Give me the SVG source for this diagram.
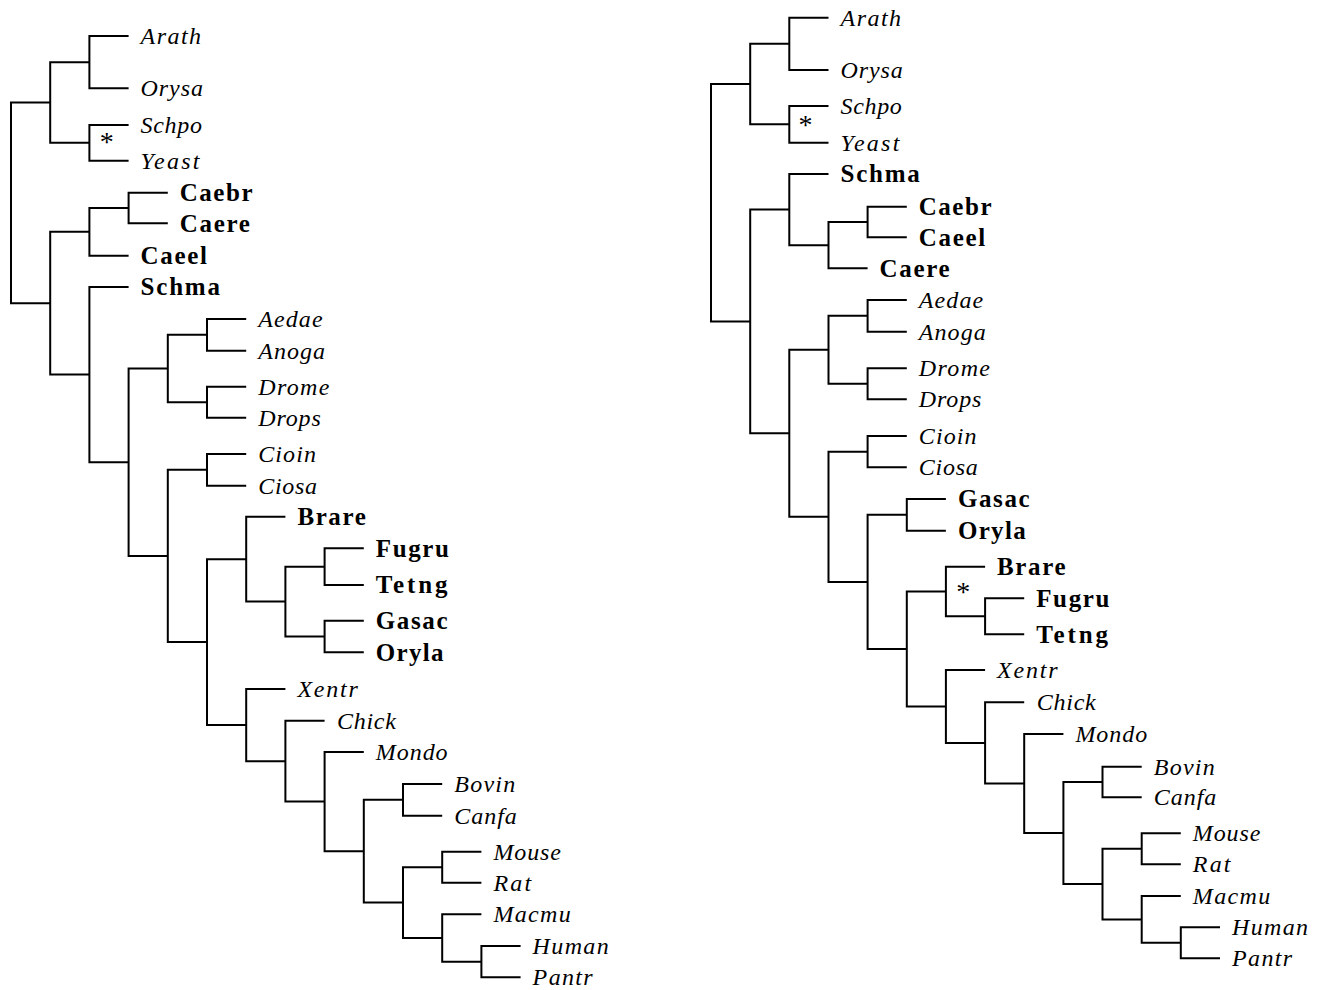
<svg xmlns="http://www.w3.org/2000/svg" width="1327" height="990" viewBox="0 0 1327 990">
<style>
.ln{fill:none;stroke:#000;stroke-width:2;stroke-linejoin:miter;stroke-linecap:butt}
text{font-family:'Liberation Serif','DejaVu Serif',serif;font-size:24px;fill:#000}
.it{font-style:italic}
.bf{font-weight:bold;font-size:25px}
.ast{font-size:28px;text-anchor:middle}
</style>
<rect width="1327" height="990" fill="#fff"/>
<g id="connectors">
<g id="left-tree-lines" class="ln">
<path d="M128.6 36 H89.4 V88.3 H128.6"/>
<path d="M128.6 125 H89.4 V160.7 H128.6"/>
<path d="M89.4 62.15 H50.2 V142.85 H89.4"/>
<path d="M167.8 192.7 H128.6 V223.3 H167.8"/>
<path d="M128.6 208 H89.4 V255.7 H128.6"/>
<path d="M246.2 319 H207 V350.7 H246.2"/>
<path d="M246.2 386.7 H207 V417.7 H246.2"/>
<path d="M207 334.85 H167.8 V402.2 H207"/>
<path d="M246.2 454 H207 V485.7 H246.2"/>
<path d="M363.8 548.3 H324.6 V585 H363.8"/>
<path d="M363.8 620.7 H324.6 V652.3 H363.8"/>
<path d="M324.6 566.65 H285.4 V636.5 H324.6"/>
<path d="M285.4 516.7 H246.2 V601.6 H285.4"/>
<path d="M520.6 946 H481.4 V977.3 H520.6"/>
<path d="M481.4 914.3 H442.2 V961.65 H481.4"/>
<path d="M481.4 851.7 H442.2 V882.7 H481.4"/>
<path d="M442.2 867.2 H403 V938 H442.2"/>
<path d="M442.2 784 H403 V815.7 H442.2"/>
<path d="M403 799.85 H363.8 V902.6 H403"/>
<path d="M363.8 752 H324.6 V851.2 H363.8"/>
<path d="M324.6 720.7 H285.4 V801.6 H324.6"/>
<path d="M285.4 689 H246.2 V761.15 H285.4"/>
<path d="M246.2 559.15 H207 V725.1 H246.2"/>
<path d="M207 469.85 H167.8 V642.1 H207"/>
<path d="M167.8 368.5 H128.6 V556 H167.8"/>
<path d="M128.6 287 H89.4 V462.25 H128.6"/>
<path d="M89.4 231.85 H50.2 V374.6 H89.4"/>
<path d="M50.2 102.5 H11 V303.2 H50.2"/>
</g>
<g id="right-tree-lines" class="ln">
<path d="M828.5 17.7 H789.3 V70 H828.5"/>
<path d="M828.5 106 H789.3 V142.7 H828.5"/>
<path d="M789.3 43.85 H750.2 V124.35 H789.3"/>
<path d="M906.8 206.7 H867.6 V237.3 H906.8"/>
<path d="M867.6 222 H828.5 V268.3 H867.6"/>
<path d="M828.5 174 H789.3 V245.15 H828.5"/>
<path d="M906.8 300 H867.6 V331.7 H906.8"/>
<path d="M906.8 368.3 H867.6 V399.3 H906.8"/>
<path d="M867.6 315.85 H828.5 V383.8 H867.6"/>
<path d="M906.8 436 H867.6 V467.3 H906.8"/>
<path d="M945.9 499 H906.8 V530.7 H945.9"/>
<path d="M1024.2 598.3 H985.1 V634.3 H1024.2"/>
<path d="M985.1 566.7 H945.9 V616.3 H985.1"/>
<path d="M1220 927.3 H1180.8 V958.3 H1220"/>
<path d="M1180.8 896 H1141.7 V942.8 H1180.8"/>
<path d="M1180.8 833.3 H1141.7 V864.3 H1180.8"/>
<path d="M1141.7 848.8 H1102.5 V919.4 H1141.7"/>
<path d="M1141.7 766.7 H1102.5 V797.3 H1141.7"/>
<path d="M1102.5 782 H1063.4 V884.1 H1102.5"/>
<path d="M1063.4 734 H1024.2 V833.05 H1063.4"/>
<path d="M1024.2 702.3 H985.1 V783.5 H1024.2"/>
<path d="M985.1 670 H945.9 V742.9 H985.1"/>
<path d="M945.9 591.5 H906.8 V706.45 H945.9"/>
<path d="M906.8 514.85 H867.6 V649 H906.8"/>
<path d="M867.6 451.65 H828.5 V581.9 H867.6"/>
<path d="M828.5 349.8 H789.3 V516.8 H828.5"/>
<path d="M789.3 209.6 H750.2 V433.3 H789.3"/>
<path d="M750.2 84.1 H711 V321.45 H750.2"/>
</g>
</g>
<g id="left-tree">
<g id="L-Arath"><text class="it" x="140.6" y="44" textLength="60.5" lengthAdjust="spacing">Arath</text></g>
<g id="L-Orysa"><text class="it" x="140.6" y="96.3" textLength="62.3" lengthAdjust="spacing">Orysa</text></g>
<g id="L-Schpo"><text class="it" x="140.6" y="133" textLength="61.3" lengthAdjust="spacing">Schpo</text></g>
<g id="L-Yeast"><text class="it" x="140.6" y="168.7" textLength="58.9" lengthAdjust="spacing">Yeast</text></g>
<g id="L-star"><text class="ast" x="106.7" y="151.2">*</text></g>
<g id="L-Caebr"><text class="bf" x="179.8" y="201" textLength="72.7" lengthAdjust="spacing">Caebr</text></g>
<g id="L-Caere"><text class="bf" x="179.8" y="231.6" textLength="70" lengthAdjust="spacing">Caere</text></g>
<g id="L-Caeel"><text class="bf" x="140.6" y="264" textLength="66.3" lengthAdjust="spacing">Caeel</text></g>
<g id="L-Schma"><text class="bf" x="140.6" y="295.3" textLength="79.3" lengthAdjust="spacing">Schma</text></g>
<g id="L-Aedae"><text class="it" x="258.2" y="327" textLength="64.4" lengthAdjust="spacing">Aedae</text></g>
<g id="L-Anoga"><text class="it" x="258.2" y="358.7" textLength="66.9" lengthAdjust="spacing">Anoga</text></g>
<g id="L-Drome"><text class="it" x="258.2" y="394.7" textLength="71.2" lengthAdjust="spacing">Drome</text></g>
<g id="L-Drops"><text class="it" x="258.2" y="425.7" textLength="62.6" lengthAdjust="spacing">Drops</text></g>
<g id="L-Cioin"><text class="it" x="258.2" y="462" textLength="57.7" lengthAdjust="spacing">Cioin</text></g>
<g id="L-Ciosa"><text class="it" x="258.2" y="493.7" textLength="58.9" lengthAdjust="spacing">Ciosa</text></g>
<g id="L-Brare"><text class="bf" x="297.4" y="525" textLength="68.4" lengthAdjust="spacing">Brare</text></g>
<g id="L-Fugru"><text class="bf" x="375.8" y="556.6" textLength="73.2" lengthAdjust="spacing">Fugru</text></g>
<g id="L-Tetng"><text class="bf" x="375.8" y="593.3" textLength="71.7" lengthAdjust="spacing">Tetng</text></g>
<g id="L-Gasac"><text class="bf" x="375.8" y="629" textLength="71.7" lengthAdjust="spacing">Gasac</text></g>
<g id="L-Oryla"><text class="bf" x="375.8" y="660.6" textLength="67.8" lengthAdjust="spacing">Oryla</text></g>
<g id="L-Xentr"><text class="it" x="297.4" y="697" textLength="60.5" lengthAdjust="spacing">Xentr</text></g>
<g id="L-Chick"><text class="it" x="337" y="728.7" textLength="58.9" lengthAdjust="spacing">Chick</text></g>
<g id="L-Mondo"><text class="it" x="375.8" y="760" textLength="71.8" lengthAdjust="spacing">Mondo</text></g>
<g id="L-Bovin"><text class="it" x="454.2" y="792" textLength="61.1" lengthAdjust="spacing">Bovin</text></g>
<g id="L-Canfa"><text class="it" x="454.2" y="823.7" textLength="62.6" lengthAdjust="spacing">Canfa</text></g>
<g id="L-Mouse"><text class="it" x="493.4" y="859.7" textLength="67.5" lengthAdjust="spacing">Mouse</text></g>
<g id="L-Rat"><text class="it" x="493.4" y="890.7" textLength="37.7" lengthAdjust="spacing">Rat</text></g>
<g id="L-Macmu"><text class="it" x="493.4" y="922.3" textLength="77.4" lengthAdjust="spacing">Macmu</text></g>
<g id="L-Human"><text class="it" x="532.6" y="954" textLength="76.1" lengthAdjust="spacing">Human</text></g>
<g id="L-Pantr"><text class="it" x="532.6" y="985.3" textLength="60.1" lengthAdjust="spacing">Pantr</text></g>
</g>
<g id="right-tree">
<g id="R-Arath"><text class="it" x="840.5" y="25.7" textLength="60.5" lengthAdjust="spacing">Arath</text></g>
<g id="R-Orysa"><text class="it" x="840.5" y="78" textLength="62.3" lengthAdjust="spacing">Orysa</text></g>
<g id="R-Schpo"><text class="it" x="840.5" y="114" textLength="61.3" lengthAdjust="spacing">Schpo</text></g>
<g id="R-Yeast"><text class="it" x="840.5" y="150.7" textLength="58.9" lengthAdjust="spacing">Yeast</text></g>
<g id="R-star1"><text class="ast" x="805.5" y="133.7">*</text></g>
<g id="R-Schma"><text class="bf" x="840.5" y="182.3" textLength="79.3" lengthAdjust="spacing">Schma</text></g>
<g id="R-Caebr"><text class="bf" x="918.8" y="215" textLength="72.7" lengthAdjust="spacing">Caebr</text></g>
<g id="R-Caeel"><text class="bf" x="918.8" y="245.6" textLength="66.3" lengthAdjust="spacing">Caeel</text></g>
<g id="R-Caere"><text class="bf" x="879.6" y="276.6" textLength="70" lengthAdjust="spacing">Caere</text></g>
<g id="R-Aedae"><text class="it" x="918.8" y="308" textLength="64.4" lengthAdjust="spacing">Aedae</text></g>
<g id="R-Anoga"><text class="it" x="918.8" y="339.7" textLength="66.9" lengthAdjust="spacing">Anoga</text></g>
<g id="R-Drome"><text class="it" x="918.8" y="376.3" textLength="71.2" lengthAdjust="spacing">Drome</text></g>
<g id="R-Drops"><text class="it" x="918.8" y="407.3" textLength="62.6" lengthAdjust="spacing">Drops</text></g>
<g id="R-Cioin"><text class="it" x="918.8" y="444" textLength="57.7" lengthAdjust="spacing">Cioin</text></g>
<g id="R-Ciosa"><text class="it" x="918.8" y="475.3" textLength="58.9" lengthAdjust="spacing">Ciosa</text></g>
<g id="R-Gasac"><text class="bf" x="957.9" y="507.3" textLength="71.7" lengthAdjust="spacing">Gasac</text></g>
<g id="R-Oryla"><text class="bf" x="957.9" y="539" textLength="67.8" lengthAdjust="spacing">Oryla</text></g>
<g id="R-Brare"><text class="bf" x="997.1" y="575" textLength="68.4" lengthAdjust="spacing">Brare</text></g>
<g id="R-star2"><text class="ast" x="963.3" y="601.2">*</text></g>
<g id="R-Fugru"><text class="bf" x="1036.2" y="606.6" textLength="73.2" lengthAdjust="spacing">Fugru</text></g>
<g id="R-Tetng"><text class="bf" x="1036.2" y="642.6" textLength="71.7" lengthAdjust="spacing">Tetng</text></g>
<g id="R-Xentr"><text class="it" x="997.1" y="678" textLength="60.5" lengthAdjust="spacing">Xentr</text></g>
<g id="R-Chick"><text class="it" x="1036.8" y="710.3" textLength="58.9" lengthAdjust="spacing">Chick</text></g>
<g id="R-Mondo"><text class="it" x="1075.4" y="742" textLength="71.8" lengthAdjust="spacing">Mondo</text></g>
<g id="R-Bovin"><text class="it" x="1153.7" y="774.7" textLength="61.1" lengthAdjust="spacing">Bovin</text></g>
<g id="R-Canfa"><text class="it" x="1153.7" y="805.3" textLength="62.6" lengthAdjust="spacing">Canfa</text></g>
<g id="R-Mouse"><text class="it" x="1192.8" y="841.3" textLength="67.5" lengthAdjust="spacing">Mouse</text></g>
<g id="R-Rat"><text class="it" x="1192.8" y="872.3" textLength="37.7" lengthAdjust="spacing">Rat</text></g>
<g id="R-Macmu"><text class="it" x="1192.8" y="904" textLength="77.4" lengthAdjust="spacing">Macmu</text></g>
<g id="R-Human"><text class="it" x="1232" y="935.3" textLength="76.1" lengthAdjust="spacing">Human</text></g>
<g id="R-Pantr"><text class="it" x="1232" y="966.3" textLength="60.1" lengthAdjust="spacing">Pantr</text></g>
</g>
</svg>
